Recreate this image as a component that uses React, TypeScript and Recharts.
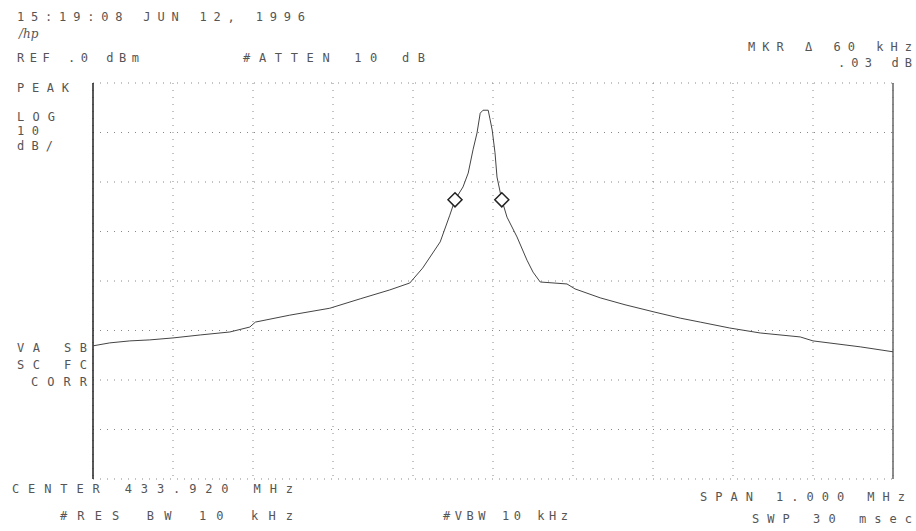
import React from 'react';
import { ComposedChart, Line, Scatter, XAxis, YAxis, CartesianGrid, ReferenceLine } from 'recharts';

// frequency offset from center (kHz) and trace level (dBm)
const freqKHz = [
  -500, -479, -454, -429, -400, -366, -329, -304, -297, -254, -204, -166, -129, -104, -88, -66, -54,
  -47.5, -37.5, -31, -25, -20, -16, -12.5, -6, -4, -1, 2.5, 5, 11, 17.5, 30, 42.5, 50, 59, 92.5,
  102.5, 134, 165, 202.5, 234, 259, 296, 334, 384, 400, 459, 500,
];
const traceDb = [
  -53.1, -52.5, -52.1, -51.9, -51.5, -50.9, -50.3, -49.3, -48.3, -46.9, -45.5, -43.6, -41.8, -40.4, -37.4, -32.1, -26.7,
  -23.6, -21.0, -18.2, -13.5, -10.1, -6.1, -5.5, -5.5, -7.1, -9.5, -14.1, -19.0, -23.6, -27.1, -31.1, -35.8, -38.2, -40.2, -40.6,
  -41.6, -43.4, -44.8, -46.3, -47.5, -48.3, -49.5, -50.5, -51.3, -52.1, -53.3, -54.3,
];
const markerKHz = [-47.5, 11];
const markerDb = [-23.6, -23.6];

const xTicks = [-500, -400, -300, -200, -100, 0, 100, 200, 300, 400, 500];
const yTicks = [0, -10, -20, -30, -40, -50, -60, -70, -80];

const trace = freqKHz.map((f, i) => ({ f, db: traceDb[i] }));
const markers = markerKHz.map((f, i) => ({ f, db: markerDb[i] }));

const INK = '#555';

const Diamond = (props: any) => {
  const { cx, cy } = props;
  const r = 7;
  return (
    <path
      d={`M${cx},${cy - r} L${cx + r},${cy} L${cx},${cy + r} L${cx - r},${cy} Z`}
      fill="#fff"
      stroke="#222"
      strokeWidth={1.5}
    />
  );
};

// annotation text: [text, x, y, width, anchor]
const labels: [string, number, number, number, 'start' | 'end'][] = [
  ['15:19:08 JUN 12, 1996', 17, 21, 288, 'start'],
  ['REF .0 dBm', 17, 62, 122, 'start'],
  ['#ATTEN 10 dB', 243, 62, 182, 'start'],
  ['MKR \u0394 60 kHz', 912, 51, 164, 'end'],
  ['.03 dB', 912, 67, 74, 'end'],
  ['PEAK', 17, 92, 52, 'start'],
  ['LOG', 17, 121, 38, 'start'],
  ['10', 17, 135, 22, 'start'],
  ['dB/', 17, 150, 36, 'start'],
  ['VA SB', 17, 352, 70, 'start'],
  ['SC FC', 17, 369, 70, 'start'],
  ['CORR', 31, 386, 56, 'start'],
  ['CENTER 433.920 MHz', 12, 493, 281, 'start'],
  ['#RES BW 10 kHz', 60, 520, 233, 'start'],
  ['#VBW 10 kHz', 443, 520, 125, 'start'],
  ['SPAN 1.000 MHz', 905, 501, 205, 'end'],
  ['SWP 30 msec', 912, 523, 160, 'end'],
];

export default function App() {
  return (
    <div style={{ position: 'absolute', left: 0, top: 0, width: 916, height: 531, background: '#fff' }}>
      <ComposedChart width={916} height={531} margin={{ top: 83, right: 23, bottom: 52, left: 93 }}>
        <XAxis dataKey="f" type="number" domain={[-500, 500]} ticks={xTicks} allowDataOverflow hide />
        <YAxis dataKey="db" type="number" domain={[-80, 0]} ticks={yTicks} allowDataOverflow hide />
        <CartesianGrid stroke="#888" strokeDasharray="1 6" />
        <ReferenceLine x={-500} stroke="#222" strokeWidth={1.5} />
        <ReferenceLine x={500} stroke="#666" strokeWidth={1.5} />
        <Line
          data={trace}
          dataKey="db"
          type="linear"
          stroke="#444"
          strokeWidth={1}
          dot={false}
          isAnimationActive={false}
        />
        <Scatter data={markers} dataKey="db" shape={<Diamond />} isAnimationActive={false} />
      </ComposedChart>
      <svg width={916} height={531} style={{ position: 'absolute', left: 0, top: 0, pointerEvents: 'none' }}>
        <text x={19} y={38} fontFamily="DejaVu Serif" fontStyle="italic" fontSize={12} fill={INK}>/hp</text>
        {labels.map(([t, x, y, w, a]) => (
          <text
            key={t}
            x={x}
            y={y}
            textAnchor={a}
            textLength={w}
            lengthAdjust="spacing"
            fontFamily="DejaVu Sans Mono"
            fontSize={12}
            fill={INK}
          >
            {t}
          </text>
        ))}
      </svg>
    </div>
  );
}
